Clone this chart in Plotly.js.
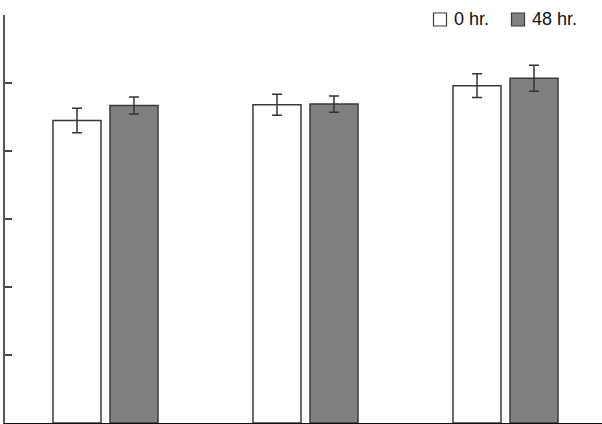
<!DOCTYPE html>
<html>
<head>
<meta charset="utf-8">
<script src="https://cdn.plot.ly/plotly-3.0.1.min.js"></script>
<style>html,body{margin:0;padding:0;background:#fff;overflow:hidden}#chart{width:602px;height:424px}</style>
</head>
<body>
<div id="chart"></div>
<script>
// ---- data ----
const categories = ['Group 1', 'Group 2', 'Group 3'];
const seriesNames = ['0 hr.', '48 hr.'];
const values0hr = [4.45, 4.68, 4.96];
const errors0hr = [0.18, 0.155, 0.175];
const values48hr = [4.67, 4.69, 5.07];
const errors48hr = [0.125, 0.12, 0.19];
const yTicks = [0, 1, 2, 3, 4, 5, 6];

// ---- styles ----
const fills = ['#ffffff', '#808080'];
const edge = '#3a3a3a';
const errStyle = {type: 'data', visible: true, thickness: 1.5, width: 5, color: '#333333'};

const traces = [
  {x: categories, y: values0hr, error_y: Object.assign({array: errors0hr}, errStyle)},
  {x: categories, y: values48hr, error_y: Object.assign({array: errors48hr}, errStyle)}
].map((t, i) => Object.assign(t, {
  type: 'bar', name: seriesNames[i],
  marker: {color: fills[i], line: {color: edge, width: 1.5}},
  hoverinfo: 'skip'
}));

// legend drawn as shapes + annotations (pixel positions converted to paper units)
const L = 5, T = 15, W = 597, H = 408;
const px = v => (v - L) / W;
const py = v => (T + H - v) / H;
const legendItems = [{sx: 433.5, tx: 451.5}, {sx: 511.5, tx: 529.5}];
const shapes = legendItems.map((it, i) => ({
  type: 'rect', xref: 'paper', yref: 'paper',
  x0: px(it.sx), x1: px(it.sx + 13), y0: py(26), y1: py(13),
  fillcolor: fills[i], line: {color: edge, width: 1.2}
}));
const annotations = legendItems.map((it, i) => ({
  xref: 'paper', yref: 'paper', x: px(it.tx), y: py(19.5),
  xanchor: 'left', yanchor: 'middle', showarrow: false,
  text: seriesNames[i], font: {family: 'Liberation Sans, Arial, sans-serif', size: 18, color: '#111'}
}));

const layout = {
  width: 602, height: 424,
  margin: {l: L, r: 0, t: T, b: 424 - T - H, pad: 0},
  paper_bgcolor: '#fff', plot_bgcolor: '#fff',
  showlegend: false,
  barmode: 'group', bargap: 0.43, bargroupgap: 0.158,
  xaxis: {
    type: 'category', range: [-0.5025, 2.4825],
    showticklabels: false, ticks: '', showgrid: false, zeroline: false,
    showline: true, linecolor: '#111', linewidth: 1.5, fixedrange: true
  },
  yaxis: {
    range: [0, 6], tickvals: yTicks, showticklabels: false,
    ticks: 'inside', ticklen: 7, tickwidth: 2, tickcolor: '#444',
    showgrid: false, zeroline: false,
    showline: true, linecolor: '#555', linewidth: 2, fixedrange: true
  },
  shapes: shapes,
  annotations: annotations
};

Plotly.newPlot('chart', traces, layout, {staticPlot: true, displayModeBar: false});
</script>
</body>
</html>
